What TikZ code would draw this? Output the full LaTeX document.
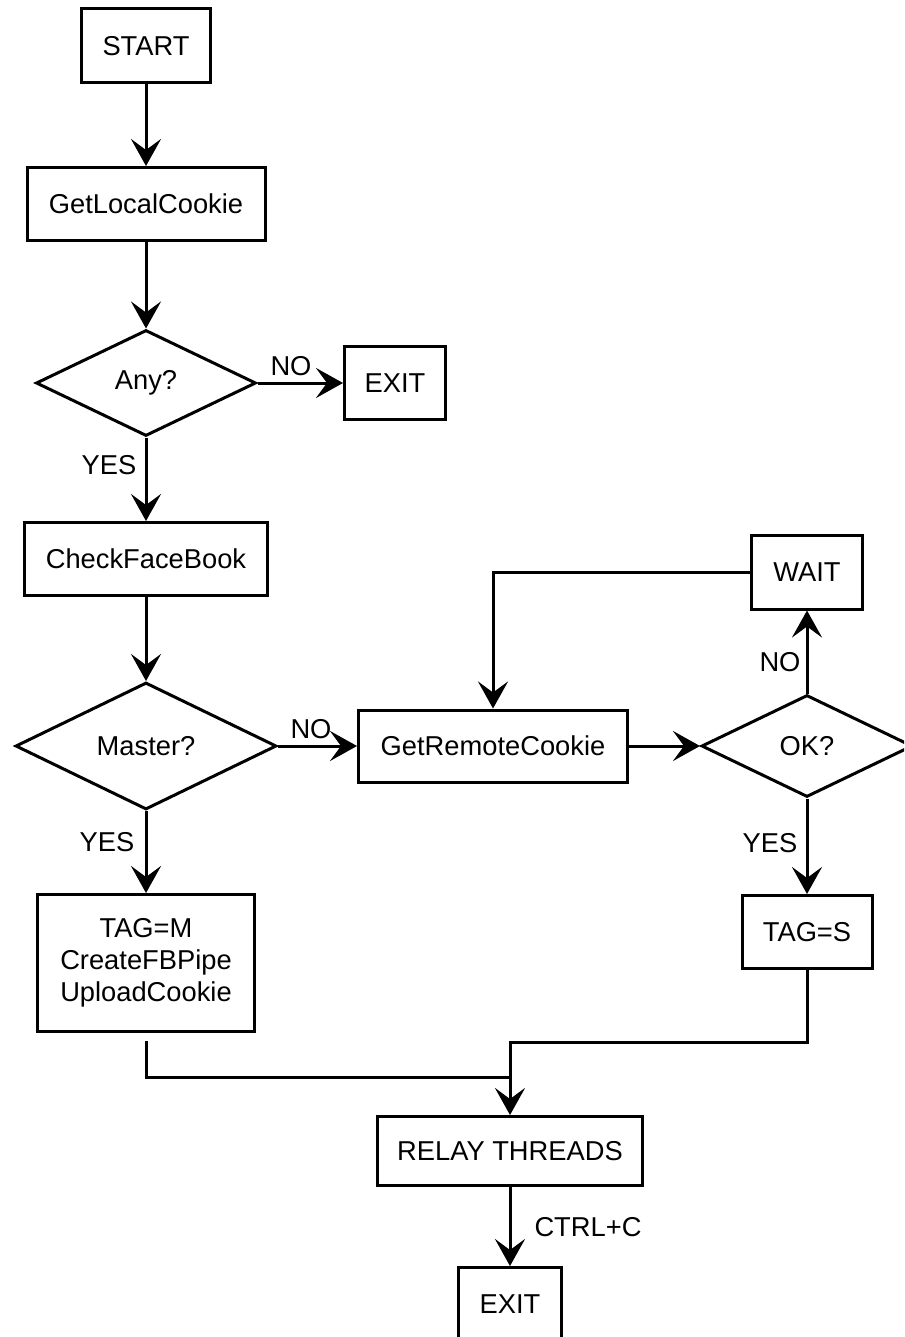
\documentclass[tikz,border=0pt]{standalone}
\usepackage{fontspec}
\setmainfont{Liberation Sans}
\usetikzlibrary{shapes.geometric,arrows.meta}

\begin{document}
\begin{tikzpicture}[x=1pt, y=-1pt,
    every node/.style={font=\fontsize{27.3}{32}\selectfont},
    box/.style={draw, line width=3pt, inner sep=0pt, align=center},
    choice/.style={draw, diamond, line width=3pt, inner sep=0pt},
    flow/.style={line width=3pt, -{Stealth[length=27pt, width=30pt, inset=11pt]}},
    wire/.style={line width=3pt},
    lbl/.style={inner sep=0pt}]
  \useasboundingbox (0,0) rectangle (904,1337);
  \clip (0,0) rectangle (904,1337);

  % Main column
  \node[box, minimum width=129pt, minimum height=74pt] (start) at (146,46) {START};
  \node[box, minimum width=238pt, minimum height=73pt] (getlocal) at (146,204) {GetLocalCookie};
  \node[choice, minimum width=220pt, minimum height=106pt] (any) at (146,383) {Any?};
  \node[box, minimum width=101pt, minimum height=73pt] (exitany) at (395,383) {EXIT};
  \node[box, minimum width=243pt, minimum height=73pt] (checkfb) at (146,559) {CheckFaceBook};
  \node[choice, minimum width=261pt, minimum height=127pt] (master) at (146,746) {Master?};
  \node[box, minimum width=217pt, minimum height=137pt] (tagm) at (146,963) {TAG=M\\CreateFBPipe\\UploadCookie};

  % Slave side
  \node[box, minimum width=269pt, minimum height=72pt] (getremote) at (493,746) {GetRemoteCookie};
  \node[choice, minimum width=211pt, minimum height=102pt] (ok) at (807,746) {OK?};
  \node[box, minimum width=111pt, minimum height=74pt] (wait) at (807,572) {WAIT};
  \node[box, minimum width=130pt, minimum height=73pt] (tags) at (807,932) {TAG=S};

  % Relay
  \node[box, minimum width=265pt, minimum height=69pt] (relay) at (510,1151) {RELAY THREADS};
  \node[box, minimum width=103pt, minimum height=73pt] (exitrelay) at (510,1304) {EXIT};

  % Labels
  \node[lbl] (anyno) at (291,366) {NO};
  \node[lbl] (anyyes) at (109,465) {YES};
  \node[lbl] (masterno) at (311,729) {NO};
  \node[lbl] (masteryes) at (107,842) {YES};
  \node[lbl] (okno) at (780,662) {NO};
  \node[lbl] (okyes) at (770,843) {YES};
  \node[lbl] (ctrlc) at (588,1227) {CTRL+C};

  \coordinate (joint) at (510,1042);
  \coordinate (merge) at (510,1077);

  % Connectors
  \draw[flow] (start) -- (getlocal);
  \draw[flow] (getlocal) -- (any);
  \draw[flow] (any) -- (exitany);
  \draw[flow] (any) -- (checkfb);
  \draw[flow] (checkfb) -- (master);
  \draw[flow] (master) -- (getremote);
  \draw[flow] (master) -- (tagm);
  \draw[flow] (getremote) -- (ok);
  \draw[flow] (ok) -- (wait);
  \draw[flow] (ok) -- (tags);
  \draw[flow] (wait.west) -| (getremote.north);
  \draw[wire] (tags.south) |- (joint) -- (merge);
  \draw[flow, shorten <=8pt] (tagm.south) |- (merge) -- (relay.north);
  \draw[flow] (relay) -- (exitrelay);
\end{tikzpicture}
\end{document}
